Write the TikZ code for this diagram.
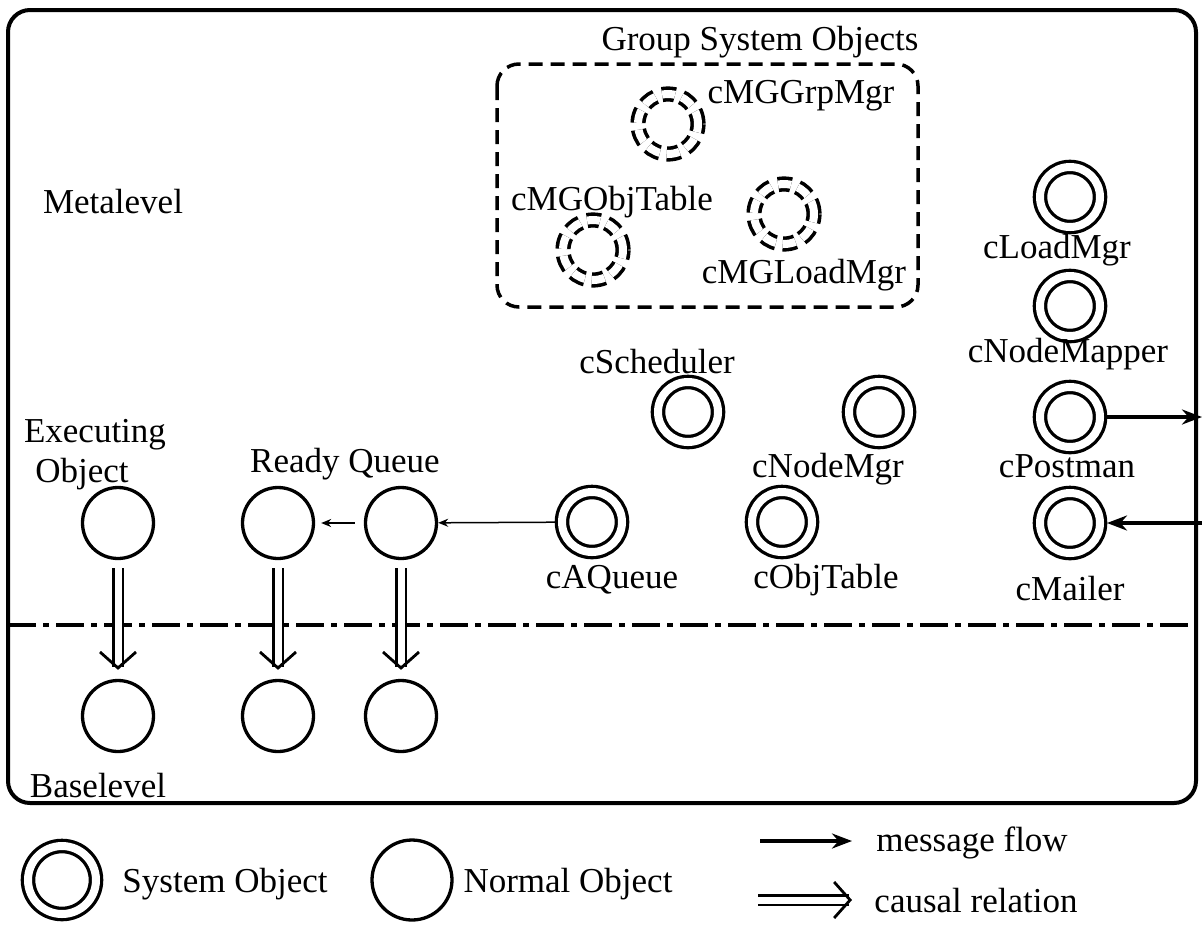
\documentclass[tikz,border=0pt]{standalone}
\usepackage{fontspec}
\setmainfont{Liberation Serif}
\usetikzlibrary{arrows.meta, positioning}
\tikzset{
    sysobj/.style={circle, draw, line width=3.3pt, double, double distance=8pt, minimum size=60pt, inner sep=0pt, outer sep=7pt},
    grpobj/.style={sysobj, line width=3.6pt, dash pattern=on 13pt off 7pt},
    normobj/.style={circle, draw, line width=3.3pt, minimum size=71pt, inner sep=0pt},
    lbl/.style={font=\fontsize{35}{38}\selectfont, inner sep=0pt, anchor=base},
    frame/.style={line width=4pt, rounded corners=22pt},
    grpbox/.style={line width=3.5pt, dash pattern=on 14pt off 8pt, rounded corners=22pt},
    levelline/.style={line width=3.5pt, dash pattern=on 28pt off 7pt on 6pt off 7pt},
    msgarrow/.style={-{Stealth[length=20pt, width=15pt]}, line width=4pt},
    thinarrow/.style={-{Stealth[length=10pt, width=8pt]}, line width=1.5pt},
    causal/.style={double, double distance=7pt, line width=2.5pt, -{Straight Barb[length=16pt, width=36pt, line width=2.8pt]}},
}
\begin{document}
\begin{tikzpicture}[x=1pt, y=-1pt]
    \useasboundingbox (0,0) rectangle (1202,930);

    % Frame and level boundary
    \draw[frame] (8,10) rectangle (1196,803);
    \draw[levelline] (8,625) -- (1196,625);
    \node[lbl] (metalbl) at (113,213) {Metalevel};
    \node[lbl] (baselbl) at (98,797) {Baselevel};

    % Group system objects
    \draw[grpbox] (497,64) rectangle (918,307);
    \node[lbl] (grplbl) at (760,50) {Group System Objects};
    \node[grpobj] (grpmgr) at (668,124) {};
    \node[lbl] (grpmgrlbl) at (801,103) {cMGGrpMgr};
    \node[grpobj] (mgobjtab) at (593,250) {};
    \node[lbl] (mgobjtablbl) at (612,210) {cMGObjTable};
    \node[grpobj] (mgloadmgr) at (784,214) {};
    \node[lbl] (mgloadmgrlbl) at (804,283) {cMGLoadMgr};

    % System objects
    \node[sysobj] (loadmgr) at (1070,197) {};
    \node[lbl] (loadmgrlbl) at (1057,258) {cLoadMgr};
    \node[sysobj] (nodemapper) at (1070,306) {};
    \node[lbl] (nodemapperlbl) at (1068,362) {cNodeMapper};
    \node[sysobj] (postman) at (1070,417) {};
    \node[lbl] (postmanlbl) at (1067,477) {cPostman};
    \node[sysobj] (mailer) at (1070,523) {};
    \node[lbl] (mailerlbl) at (1070,600) {cMailer};
    \node[sysobj] (scheduler) at (688,412) {};
    \node[lbl] (schedulerlbl) at (657,373) {cScheduler};
    \node[sysobj] (nodemgr) at (879,412) {};
    \node[lbl] (nodemgrlbl) at (828,477) {cNodeMgr};
    \node[sysobj] (objtable) at (782,522) {};
    \node[lbl] (objtablelbl) at (826,588) {cObjTable};
    \node[sysobj] (aqueue) at (592,522) {};
    \node[lbl] (aqueuelbl) at (612,588) {cAQueue};

    % Normal objects
    \node[normobj] (exec) at (118,523) {};
    \node[normobj] (ready1) at (278,523) {};
    \node[normobj] (ready2) at (401,523) {};
    \node[normobj] (execB) at (118,716) {};
    \node[normobj] (ready1B) at (278,716) {};
    \node[normobj] (ready2B) at (401,716) {};
    \node[lbl] (execlbl) at (95,442) {Executing};
    \node[lbl] (execlbl2) at (82,482) {Object};
    \node[lbl] (readylbl) at (345,472) {Ready Queue};

    % Message flow
    \coordinate (outR) at (1202,417);
    \coordinate (inR) at (1202,523);
    \draw[msgarrow] (postman) -- (outR);
    \draw[msgarrow] (inR) -- (mailer);
    \draw[thinarrow] (aqueue) -- (ready2);
    \draw[thinarrow, shorten <=9pt, shorten >=6pt] (ready2) -- (ready1);

    % Causal relations
    \foreach \a/\b in {exec/execB, ready1/ready1B, ready2/ready2B}
        \draw[causal, shorten <=8pt, shorten >=9pt] (\a) -- (\b);

    % Legend
    \node[sysobj, minimum size=68pt] (legsys) at (62,880) {};
    \node[lbl] (legsyslbl) at (225,892) {System Object};
    \node[normobj, minimum size=80pt] (legnorm) at (412,880) {};
    \node[lbl] (legnormlbl) at (568,892) {Normal Object};
    \coordinate (msgA) at (760,841);
    \coordinate (msgB) at (852,841);
    \draw[msgarrow] (msgA) -- (msgB);
    \node[lbl] (msglbl) at (972,851) {message flow};
    \coordinate (causA) at (758,900);
    \coordinate (causB) at (852,900);
    \draw[causal] (causA) -- (causB);
    \node[lbl] (causlbl) at (976,912) {causal relation};
\end{tikzpicture}
\end{document}
